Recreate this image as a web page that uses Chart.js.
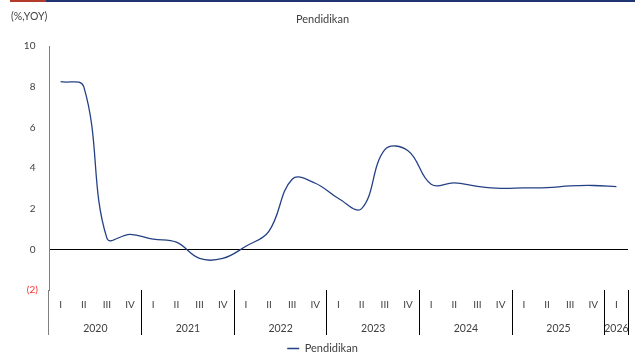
<!DOCTYPE html>
<html><head><meta charset="utf-8">
<script src="https://cdn.jsdelivr.net/npm/chart.js@4.4.1/dist/chart.umd.min.js"></script>
<style>
html,body{margin:0;padding:0;background:#fff;}
#wrap{position:relative;width:635px;height:354px;overflow:hidden;background:#fff;}
#barR{position:absolute;left:10px;top:0;width:36px;height:2px;background:#b33a28;}
#barB{position:absolute;left:46px;top:0;width:589px;height:2px;background:#1f3471;}
#unit{position:absolute;left:11px;top:10px;font:10.5px Lato, sans-serif;color:#404040;}
#c{position:absolute;left:0;top:0;}
</style></head><body>
<div id="wrap">
<canvas id="c" width="635" height="354"></canvas>
<div id="barR"></div><div id="barB"></div>
<div id="unit">(%,YOY)</div>
</div>
<script>
// ---- data ----
const quarterLabels = ['I','II','III','IV','I','II','III','IV','I','II','III','IV','I','II','III','IV','I','II','III','IV','I','II','III','IV','I'];
const yearLabels = ['2020','2021','2022','2023','2024','2025','2026'];
const quarterYear = ['2020','2020','2020','2020','2021','2021','2021','2021','2022','2022','2022','2022','2023','2023','2023','2023','2024','2024','2024','2024','2025','2025','2025','2025','2026'];
const pendidikan = [8.25, 8.0, 0.55, 0.74, 0.5, 0.35, -0.45, -0.45, 0.15, 0.9, 3.45, 3.25, 2.5, 2.0, 4.9, 4.85, 3.2, 3.27, 3.1, 3.0, 3.02, 3.03, 3.12, 3.14, 3.08];
const yMin = -2, yMax = 10, yStep = 2;

// group centres (in category index units) derived from quarterYear
const yearCenters = yearLabels.map(y => {
  const idx = quarterYear.map((q, i) => q === y ? i : -1).filter(i => i >= 0);
  return (idx[0] + idx[idx.length - 1]) / 2;
});

const FONT = 'Lato, "Noto Sans", sans-serif';
const TXT = '#404040';

new Chart(document.getElementById('c'), {
  type: 'line',
  data: {
    labels: quarterLabels,
    datasets: [{
      label: 'Pendidikan',
      data: pendidikan,
      borderColor: '#244185',
      backgroundColor: '#244185',
      borderWidth: 1.3,
      pointRadius: 0,
      pointHoverRadius: 0,
      tension: 0.4,
      fill: false
    }]
  },
  options: {
    responsive: false,
    animation: false,
    devicePixelRatio: 1,
    layout: { padding: { left: 17, right: 7, top: 0, bottom: -10 } },
    plugins: {
      title: {
        display: true, text: 'Pendidikan', color: TXT,
        font: { family: FONT, size: 11, weight: 'normal' },
        padding: { top: 13, bottom: 19.8 }
      },
      legend: {
        position: 'bottom',
        labels: { boxWidth: 12, boxHeight: 0, padding: 2, color: TXT, font: { family: FONT, size: 11 } }
      },
      tooltip: { enabled: false }
    },
    scales: {
      x: {
        type: 'category', position: 'bottom', offset: true, weight: 0,
        grid: {
          display: true, offset: true, drawOnChartArea: false, drawTicks: true, tickLength: 45, lineWidth: 1,
          color: c => c.index === 0 ? '#7f7f7f' : ((c.index === undefined || c.index % 4 === 0) ? '#000000' : 'rgba(0,0,0,0)')
        },
        border: { display: false },
        ticks: { autoSkip: false, maxRotation: 0, minRotation: 0, padding: -36, color: TXT, font: { family: FONT, size: 10 } },
        afterFit: s => { s.height = 22; }
      },
      yr: {
        type: 'linear', position: 'bottom', weight: 1, min: -0.5, max: quarterLabels.length - 0.5,
        grid: { display: false, drawTicks: false }, border: { display: false },
        afterBuildTicks: s => { s.ticks = yearCenters.map(v => ({ value: v })); },
        ticks: { autoSkip: false, maxRotation: 0, minRotation: 0, padding: 10, color: TXT, font: { family: FONT, size: 10.5 },
                 callback: (v, i) => yearLabels[i] },
        afterFit: s => { s.height = 29; s.paddingLeft = 0; s.paddingRight = 0; }
      },
      y: {
        min: yMin, max: yMax,
        ticks: {
          stepSize: yStep, padding: 11,
          callback: v => v < 0 ? '(' + (-v) + ')' : v + ' ',
          color: c => (c.tick && c.tick.value < 0) ? '#ff3030' : TXT,
          font: { family: FONT, size: 10 }
        },
        grid: { drawTicks: false, lineWidth: 1, color: c => (c.tick && c.tick.value === 0) ? '#000000' : 'rgba(0,0,0,0)' },
        border: { display: true, color: '#7f7f7f', width: 1 },
        afterFit: s => { s.width = 32; }
      }
    }
  }
});
</script>
</body></html>
